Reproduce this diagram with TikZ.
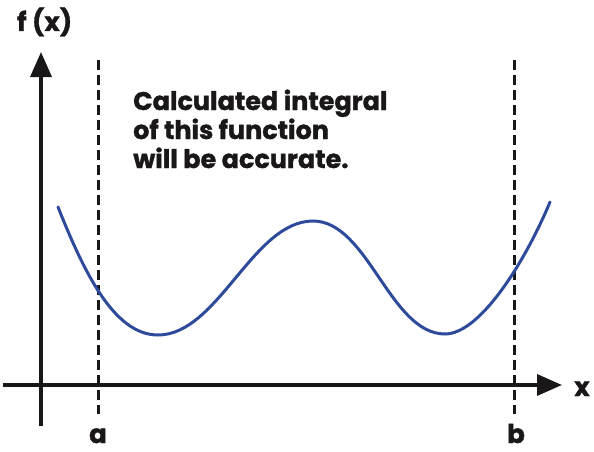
\documentclass[tikz,border=0pt]{standalone}
\usepackage{fontspec}
\setmainfont{Poppins}[BoldFont={Poppins Bold},BoldFeatures={FakeBold=1.3}]
\usetikzlibrary{arrows.meta}
\definecolor{curveblue}{HTML}{2E4A9B}
\definecolor{ink}{HTML}{1A1718}
\begin{document}
\begin{tikzpicture}[x=1pt,y=-1pt,
  axisline/.style={draw=ink,line width=3.5pt,-{Triangle[length=25pt,width=21pt]}},
  limitline/.style={draw=ink,line width=3pt,dash pattern=on 10pt off 5pt},
  lbl/.style={font=\fontsize{26}{28}\selectfont\bfseries,text=ink,inner sep=0pt},
  txt/.style={font=\fontsize{25.5}{28}\selectfont\bfseries,text=ink,inner sep=0pt,anchor=base west}]
\useasboundingbox (0,0) rectangle (594,452);
% axes
\coordinate (ystart) at (41,426);
\coordinate (yend) at (41,52);
\coordinate (xstart) at (3,385);
\coordinate (xend) at (562,385);
\draw[axisline] (ystart) -- (yend);
\draw[axisline] (xstart) -- (xend);
% limits
\coordinate (atop) at (98,60);
\coordinate (abot) at (98,414);
\coordinate (btop) at (514,60);
\coordinate (bbot) at (514,414);
\draw[limitline] (atop) -- (abot);
\draw[limitline] (btop) -- (bbot);
% labels
\node[lbl,anchor=base] (la) at (98,443) {a};
\node[lbl,anchor=base] (lb) at (516,443) {b};
\node[lbl,anchor=base] (lx) at (582,396) {x};
\node[lbl,anchor=base west] (lf) at (17,31) {f (x)};
% text
\node[txt] (t1) at (133,110) {Calculated integral};
\node[txt] (t2) at (133,139) {of this function};
\node[txt] (t3) at (133,168) {will be accurate.};
% curve
\draw[curveblue,line width=3pt,line cap=round]
  (58,207) .. controls (85,275) and (115,335) .. (158,335)
  .. controls (218,335) and (253,221) .. (313,221)
  .. controls (368,221) and (390,334) .. (445,334)
  .. controls (480,334) and (525,262) .. (550,202);
\end{tikzpicture}
\end{document}
